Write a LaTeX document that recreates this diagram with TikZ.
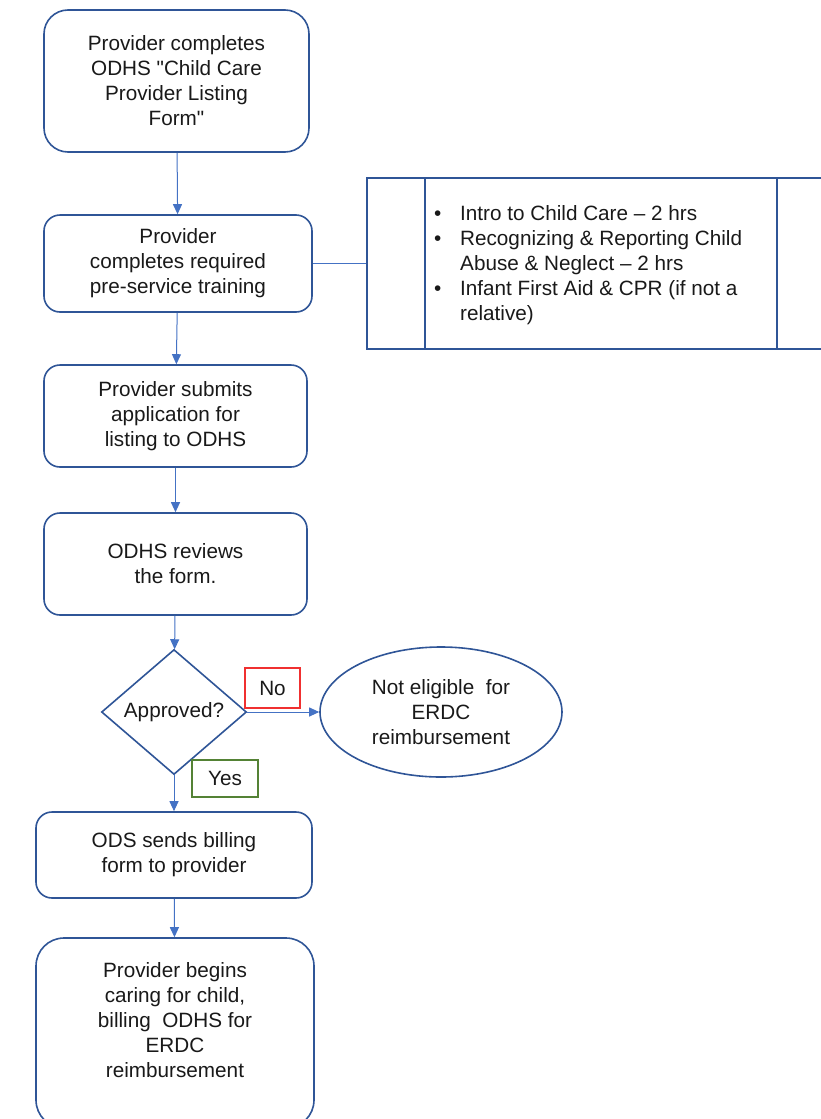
\documentclass[tikz,border=0pt]{standalone}
\usepackage{fontspec}
\setmainfont{Liberation Sans}
\usetikzlibrary{shapes.geometric,arrows.meta}
\definecolor{boxblue}{HTML}{2F5597}
\definecolor{arrowblue}{HTML}{4472C4}
\definecolor{noRed}{HTML}{F03030}
\definecolor{yesGreen}{HTML}{548235}

\begin{document}
\begin{tikzpicture}[x=1pt, y=-1pt, >={Triangle[length=10pt,width=9pt]},
    every node/.style={font=\fontsize{20.7}{25}\selectfont, text=black!90, align=center, inner sep=0pt},
    flowbox/.style={draw=boxblue, line width=1.6pt, rounded corners=#1, fill=white},
    flowbox/.default=16pt,
    flow/.style={->, draw=arrowblue, line width=1pt},
    tag/.style={draw=#1, line width=1.5pt}]
    % Page frame
    \useasboundingbox (0,0) rectangle (820,1119);

    % Listing form and training
    \node[flowbox=24pt, minimum width=265pt, minimum height=142pt] (listing) at (176.5,81)
        {Provider completes\\ODHS \textquotedbl Child Care\\Provider Listing\\Form\textquotedbl};
    \node[flowbox, minimum width=268pt, minimum height=97pt] (training) at (178,263.5)
        {Provider\\completes required\\pre-service training};

    % Training list
    \node[draw=boxblue, line width=1.6pt, minimum width=490pt, minimum height=171pt, anchor=north west] (trainlist) at (366,177) {};
    \draw[boxblue, line width=1.6pt] ([xshift=59pt]trainlist.north west) -- ([xshift=59pt]trainlist.south west);
    \draw[boxblue, line width=1.6pt] ([xshift=411pt]trainlist.north west) -- ([xshift=411pt]trainlist.south west);
    \node[anchor=north west, align=left] (trainitems) at (434,203) {%
        \begin{tabular}{@{}p{26pt}@{}l@{}}
        \textbullet & Intro to Child Care – 2 hrs\\
        \textbullet & Recognizing \& Reporting Child\\
                    & Abuse \& Neglect – 2 hrs\\
        \textbullet & Infant First Aid \& CPR (if not a\\
                    & relative)
        \end{tabular}};
    \draw[arrowblue, line width=1pt] (training.east) -- (training.east -| trainlist.west);

    % Application and review
    \node[flowbox, minimum width=263pt, minimum height=102pt] (submit) at (175.5,416)
        {Provider submits\\application for\\listing to ODHS};
    \node[flowbox, minimum width=263pt, minimum height=102pt] (review) at (175.5,564)
        {ODHS reviews\\the form.};

    % Decision
    \node[draw=boxblue, line width=1.6pt, diamond, minimum width=145pt, minimum height=125pt] (approved) at (174,712) {Approved?};
    \node[draw=boxblue, line width=1.6pt, ellipse, minimum width=242pt, minimum height=130pt] (notelig) at (441,712)
        {Not eligible~ for\\ERDC\\reimbursement};
    \node[tag=noRed, minimum width=55pt, minimum height=40pt] (notag) at (272.5,688) {No};
    \node[tag=yesGreen, minimum width=66pt, minimum height=37pt] (yestag) at (225,778.5) {Yes};

    % Billing
    \node[flowbox, minimum width=276pt, minimum height=86pt] (billing) at (174,855)
        {ODS sends billing\\form to provider};
    \node[flowbox=28pt, minimum width=278pt, minimum height=190pt] (caring) at (175,1033) {};
    \node (caringtext) at (175,1020)
        {Provider begins\\caring for child,\\billing~ ODHS for\\ERDC\\reimbursement};

    % Arrows
    \draw[flow] (listing) -- (training);
    \draw[flow] (training) -- (submit);
    \draw[flow] (submit) -- (review);
    \draw[flow] (review) -- (approved);
    \draw[flow] (approved) -- (notelig);
    \draw[flow] (approved) -- (billing);
    \draw[flow] (billing) -- (caring);
\end{tikzpicture}
\end{document}
